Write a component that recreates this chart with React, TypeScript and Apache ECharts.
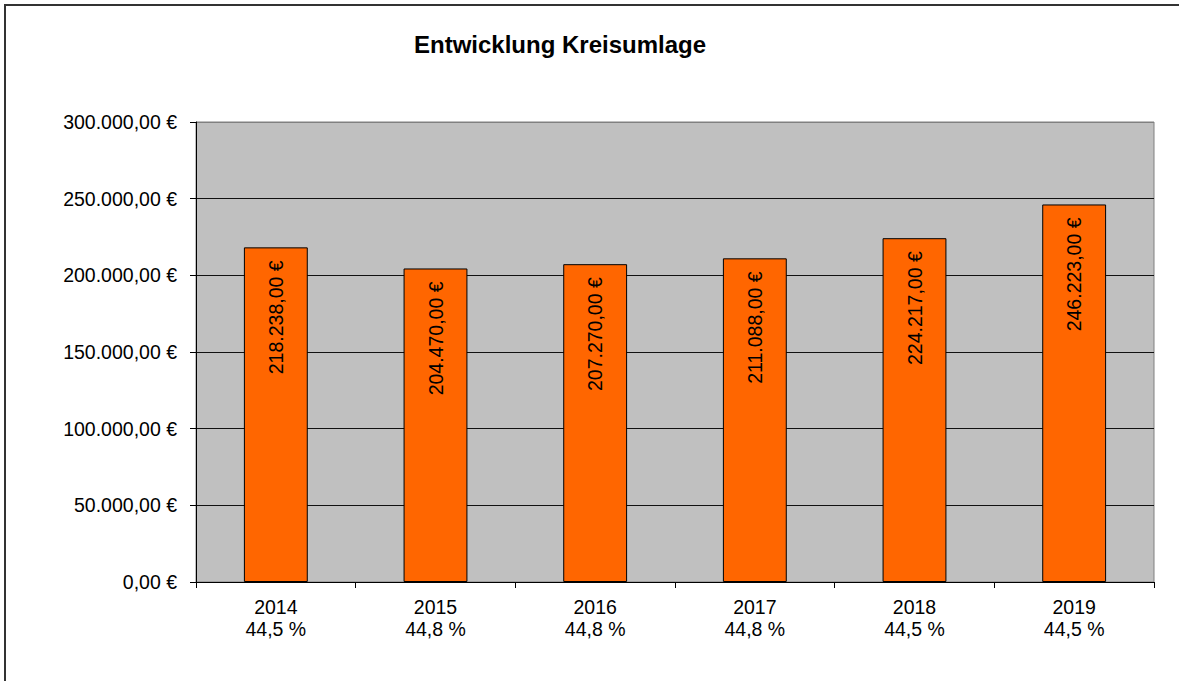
import React, { useEffect, useRef } from "react";
import * as echarts from "echarts";

const years = ["2014", "2015", "2016", "2017", "2018", "2019"];
const rates = ["44,5 %", "44,8 %", "44,8 %", "44,8 %", "44,5 %", "44,5 %"];
const values = [218238, 204470, 207270, 211088, 224217, 246223];
const title = "Entwicklung Kreisumlage";

const FONT = '"Liberation Sans", Arial, sans-serif';

function euro(v: number): string {
  const fixed = v.toFixed(2);
  const [intPart, dec] = fixed.split(".");
  const withDots = intPart.replace(/\B(?=(\d{3})+(?!\d))/g, ".");
  return `${withDots},${dec} €`;
}

export default function App() {
  const ref = useRef<HTMLDivElement>(null);
  useEffect(() => {
    document.body.style.margin = "0";
    const chart = echarts.init(ref.current!, undefined, { renderer: "svg" });
    chart.setOption({
      animation: false,
      backgroundColor: "#ffffff",
      textStyle: { fontFamily: FONT },
      graphic: [
        {
          type: "rect",
          shape: { x: 5, y: 5, width: 1300, height: 800 },
          style: { fill: "none", stroke: "#333", lineWidth: 2 },
          z: 0,
        },
        {
          type: "text",
          x: 560,
          y: 44,
          style: {
            text: title,
            fontFamily: FONT,
            fontSize: 24,
            fontWeight: "bold",
            fill: "#000",
            align: "center",
            verticalAlign: "middle",
          },
        },
      ],
      grid: {
        left: 196,
        right: 25,
        top: 122,
        bottom: 99,
        show: true,
        backgroundColor: "#C0C0C0",
        borderColor: "#808080",
        borderWidth: 1,
      },
      xAxis: {
        type: "category",
        data: years,
        axisLine: { lineStyle: { color: "#000", width: 1 } },
        axisTick: { show: true, length: 6, lineStyle: { color: "#000" } },
        axisLabel: {
          color: "#000",
          fontFamily: FONT,
          fontSize: 19.5,
          lineHeight: 22,
          margin: 14,
          formatter: (v: string, i: number) => `${v}\n${rates[i]}`,
        },
      },
      yAxis: {
        type: "value",
        min: 0,
        max: 300000,
        interval: 50000,
        axisLine: { show: true, lineStyle: { color: "#000", width: 1 } },
        axisTick: { show: true, length: 6, lineStyle: { color: "#000" } },
        axisLabel: {
          color: "#000",
          fontFamily: FONT,
          fontSize: 19.5,
          margin: 19,
          formatter: (v: number) => euro(v),
        },
        splitLine: {
          show: true,
          lineStyle: {
            color: ["#111", "#111", "#111", "#111", "#111", "#111", "#808080"],
            width: 1,
          },
        },
      },
      series: [
        {
          type: "bar",
          data: values,
          barCategoryGap: "60%",
          itemStyle: { color: "#FF6600", borderColor: "#000", borderWidth: 1 },
          label: {
            show: true,
            position: "insideTop",
            distance: 13,
            rotate: 90,
            align: "right",
            verticalAlign: "middle",
            color: "#000",
            fontFamily: FONT,
            fontSize: 19.5,
            formatter: (p: any) => euro(p.value),
          },
        },
      ],
    });
    return () => chart.dispose();
  }, []);
  return <div ref={ref} style={{ width: 1179, height: 681 }} />;
}
